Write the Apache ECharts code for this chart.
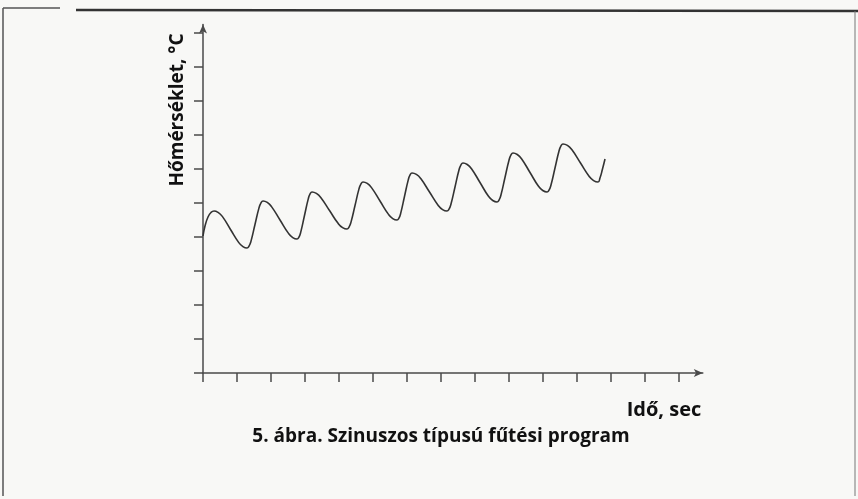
<!DOCTYPE html>
<html>
<head>
<meta charset="utf-8">
<script src="https://cdn.jsdelivr.net/npm/echarts@6/dist/echarts.min.js"></script>
<style>
html,body{margin:0;padding:0;background:#f8f8f6;}
#chart{width:858px;height:499px;}
</style>
</head>
<body>
<div id="chart"></div>
<script>
// Time (x, in tick units) and temperature (y, in tick units)
const timeValues = [
  0.000, 0.059, 0.147, 0.235, 0.324,
  0.444, 0.568, 0.809, 1.053, 1.174, 1.294,
  1.353, 1.412, 1.529, 1.647, 1.706, 1.765,
  1.890, 2.015, 2.265, 2.515, 2.640, 2.765,
  2.821, 2.875, 2.985, 3.096, 3.150, 3.206,
  3.335, 3.463, 3.721, 3.978, 4.106, 4.235,
  4.294, 4.353, 4.471, 4.588, 4.647, 4.706,
  4.831, 4.956, 5.206, 5.456, 5.581, 5.706,
  5.762, 5.816, 5.926, 6.037, 6.091, 6.147,
  6.276, 6.404, 6.662, 6.919, 7.047, 7.176,
  7.235, 7.294, 7.412, 7.529, 7.588, 7.647,
  7.772, 7.897, 8.147, 8.397, 8.522, 8.647,
  8.706, 8.765, 8.882, 9.000, 9.059, 9.118,
  9.243, 9.368, 9.618, 9.868, 9.993, 10.118,
  10.176, 10.235, 10.353, 10.471, 10.529, 10.588,
  10.718, 10.846, 11.103, 11.360, 11.488, 11.618,
  11.676, 11.750, 11.824
];
const tempValues = [
  4.029, 4.324, 4.588, 4.721, 4.765,
  4.724, 4.606, 4.221, 3.835, 3.718, 3.676,
  3.729, 3.879, 4.368, 4.856, 5.006, 5.059,
  5.018, 4.894, 4.500, 4.106, 3.982, 3.941,
  3.994, 4.144, 4.632, 5.121, 5.271, 5.324,
  5.282, 5.165, 4.779, 4.394, 4.276, 4.235,
  4.288, 4.438, 4.926, 5.415, 5.565, 5.618,
  5.576, 5.453, 5.059, 4.665, 4.541, 4.500,
  4.553, 4.703, 5.191, 5.679, 5.829, 5.882,
  5.841, 5.718, 5.324, 4.929, 4.806, 4.765,
  4.818, 4.971, 5.471, 5.971, 6.124, 6.176,
  6.132, 6.009, 5.603, 5.197, 5.074, 5.029,
  5.085, 5.241, 5.750, 6.259, 6.415, 6.471,
  6.426, 6.303, 5.897, 5.491, 5.368, 5.324,
  5.376, 5.529, 6.029, 6.529, 6.682, 6.735,
  6.694, 6.571, 6.176, 5.782, 5.659, 5.618,
  5.735, 6.000, 6.294
];
const xTicks = [0,1,2,3,4,5,6,7,8,9,10,11,12,13,14];
const yTicks = [0,1,2,3,4,5,6,7,8,9,10];
const yAxisTitle = 'Hőmérséklet, °C';
const xAxisTitle = 'Idő, sec';
const caption = '5. ábra. Szinuszos típusú fűtési program';

const seriesData = timeValues.map((t, i) => [t, tempValues[i]]);
const axisColor = '#4a4a4a';
const font = '"Open Sans", "Noto Sans", sans-serif';

const chart = echarts.init(document.getElementById('chart'), null, {renderer: 'canvas'});
chart.setOption({
  backgroundColor: '#f8f8f6',
  animation: false,
  grid: {left: 203, top: 24.5, width: 499.8, height: 348.5},
  xAxis: {
    type: 'value', min: 0, max: 14.7, interval: 1,
    axisLine: {show: true, symbol: ['none', 'arrow'], symbolSize: [6, 9], lineStyle: {color: axisColor, width: 1.5}},
    axisTick: {show: true, length: 9, customValues: xTicks, lineStyle: {color: axisColor, width: 1.5}},
    axisLabel: {show: false},
    splitLine: {show: false}
  },
  yAxis: {
    type: 'value', min: 0, max: 10.25, interval: 1,
    axisLine: {show: true, symbol: ['none', 'arrow'], symbolSize: [6, 9], lineStyle: {color: axisColor, width: 1.5}},
    axisTick: {show: true, length: 9, customValues: yTicks, lineStyle: {color: axisColor, width: 1.5}},
    axisLabel: {show: false},
    splitLine: {show: false}
  },
  series: [{
    type: 'line',
    data: seriesData,
    smooth: 0.5,
    showSymbol: false,
    lineStyle: {color: '#333333', width: 1.6}
  }],
  graphic: [
    {type: 'line', shape: {x1: 3, y1: 8, x2: 60, y2: 8}, style: {stroke: '#555', lineWidth: 1.5}},
    {type: 'line', shape: {x1: 76, y1: 10, x2: 858, y2: 11}, style: {stroke: '#333', lineWidth: 2.5}},
    {type: 'line', shape: {x1: 3, y1: 8, x2: 3, y2: 496}, style: {stroke: '#555', lineWidth: 1.5}},
    {type: 'line', shape: {x1: 855, y1: 11, x2: 855, y2: 496}, style: {stroke: '#777', lineWidth: 1}},
    {type: 'text', x: 178, y: 110, rotation: Math.PI / 2,
      style: {text: yAxisTitle, font: 'bold 19px ' + font, fill: '#111', align: 'center', verticalAlign: 'middle'}},
    {type: 'text', x: 664, y: 410,
      style: {text: xAxisTitle, font: 'bold 20px ' + font, fill: '#111', align: 'center', verticalAlign: 'middle'}},
    {type: 'text', x: 441, y: 437,
      style: {text: caption, font: 'bold 19px ' + font, fill: '#111', align: 'center', verticalAlign: 'middle'}}
  ]
});
</script>
</body>
</html>
